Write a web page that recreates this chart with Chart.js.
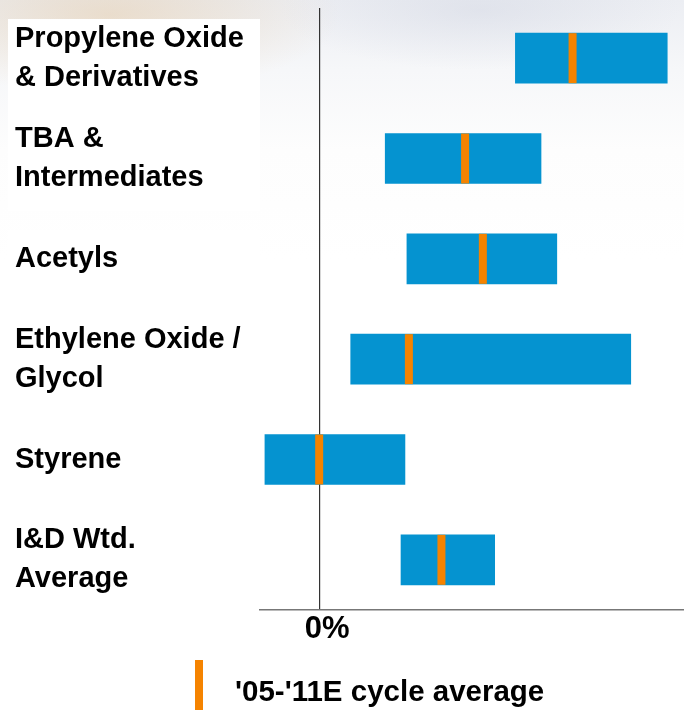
<!DOCTYPE html>
<html>
<head>
<meta charset="utf-8">
<script src="https://cdn.jsdelivr.net/npm/chart.js@4/dist/chart.umd.min.js"></script>
<style>
  html, body { margin: 0; padding: 0; }
  body {
    width: 684px; height: 710px; overflow: hidden;
    background:
      radial-gradient(ellipse 230px 80px at 110px 15px, rgba(225,185,130,0.35), rgba(255,255,255,0) 100%),
      radial-gradient(ellipse 200px 60px at 480px 10px, rgba(200,205,220,0.35), rgba(255,255,255,0) 100%),
      linear-gradient(to bottom, #eceef3 0px, #f6f7f9 70px, #fdfdfd 150px, #ffffff 260px);
  }
  canvas { display: block; }
</style>
</head>
<body>
<canvas id="c" width="684" height="710"></canvas>
<script>
// ---- data ----
const categories = [
  ["Propylene Oxide", "& Derivatives"],
  ["TBA &", "Intermediates"],
  ["Acetyls"],
  ["Ethylene Oxide /", "Glycol"],
  ["Styrene"],
  ["I&D Wtd.", "Average"]
];
const rangeLow  = [19.9, 6.7, 8.9, 3.2, -5.5, 8.3];
const rangeHigh = [35.3, 22.5, 24.1, 31.6, 8.7, 17.8];
const cycleAverage = [25.7, 14.8, 16.6, 9.1, 0, 12.4];
const xTickValues = [0];
const legendLabel = "'05-'11E cycle average";

const BLUE = '#0593D0';
const ORANGE = '#F58300';
const FONT = '"Liberation Sans", Arial, sans-serif';

const whiteBoxes = {
  id: 'whiteBoxes',
  beforeDraw(chart) {
    const ctx = chart.ctx;
    ctx.save();
    ctx.fillStyle = '#ffffff';
    [[8, 19, 252, 192], [8, 230, 252, 167], [8, 436, 252, 76], [8, 527, 252, 83]]
      .forEach(r => ctx.fillRect(r[0], r[1], r[2], r[3]));
    ctx.restore();
  }
};

const customLegend = {
  id: 'customLegend',
  afterDraw(chart) {
    const ctx = chart.ctx;
    const ds = chart.data.datasets[1];
    ctx.save();
    ctx.fillStyle = ds.borderColor;
    ctx.fillRect(195, 660, 8, 50);
    ctx.fillStyle = '#000';
    ctx.font = 'bold 29.5px ' + FONT;
    ctx.textBaseline = 'alphabetic';
    ctx.textAlign = 'left';
    ctx.fillText(ds.label, 235, 701);
    ctx.restore();
  }
};

new Chart(document.getElementById('c'), {
  type: 'bar',
  data: {
    labels: categories,
    datasets: [
      {
        label: 'Range',
        data: rangeLow.map((lo, i) => [lo, rangeHigh[i]]),
        backgroundColor: BLUE,
        borderWidth: 0,
        barThickness: 50,
        grouped: false,
        order: 1
      },
      {
        type: 'scatter',
        label: legendLabel,
        data: cycleAverage.map((v, i) => ({ x: v, y: i })),
        pointStyle: 'line',
        rotation: 90,
        pointRadius: 25,
        pointHoverRadius: 25,
        borderWidth: 8,
        pointBorderWidth: 8,
        borderColor: ORANGE,
        backgroundColor: ORANGE,
        order: 0
      }
    ]
  },
  options: {
    indexAxis: 'y',
    responsive: false,
    animation: false,
    events: [],
    layout: { autoPadding: false, padding: { top: 8, left: 15, right: 0, bottom: 0 } },
    plugins: {
      legend: { display: false },
      tooltip: { enabled: false }
    },
    scales: {
      x: {
        type: 'linear',
        min: -6,
        max: 37,
        afterBuildTicks: (scale) => { scale.ticks = xTickValues.map(v => ({ value: v })); },
        afterFit: (scale) => {
          scale.height = 100;
          scale.paddingLeft = 0; scale.paddingRight = 0;
        },
        ticks: {
          color: '#000',
          font: { family: FONT, size: 31, weight: 'bold' },
          padding: 1,
          labelOffset: 8,
          callback: (v) => v + '%'
        },
        grid: { color: '#333', lineWidth: 1.2, drawTicks: false },
        border: { display: true, color: '#777', width: 1.5 }
      },
      y: {
        type: 'category',
        afterFit: (scale) => {
          scale.width = 245;
          scale.paddingTop = 0; scale.paddingBottom = 0;
        },
        ticks: {
          color: '#000',
          crossAlign: 'far',
          font: { family: FONT, size: 29, weight: 'bold', lineHeight: 1.35 }
        },
        grid: { display: false },
        border: { display: false }
      }
    }
  },
  plugins: [whiteBoxes, customLegend]
});
</script>
</body>
</html>
